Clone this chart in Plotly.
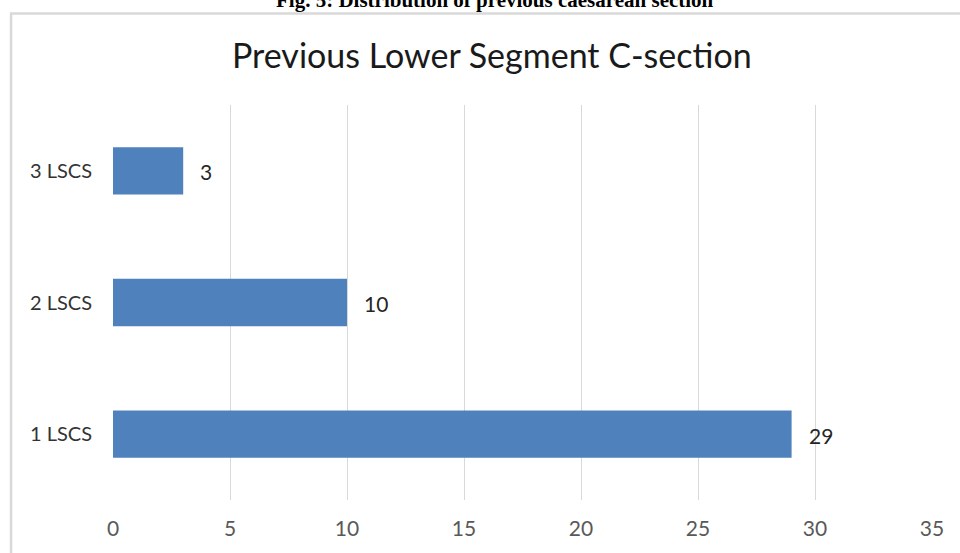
import plotly.graph_objects as go

# Number of previous lower segment caesarean sections
categories = ["1 LSCS", "2 LSCS", "3 LSCS"]
counts = [29, 10, 3]
x_ticks = [0, 5, 10, 15, 20, 25, 30, 35]

BAR_COLOR = "#4f81bd"
FONT = "Lato, 'Open Sans', sans-serif"

fig = go.Figure()
fig.add_trace(go.Bar(
    y=categories,
    x=counts,
    orientation="h",
    marker=dict(color=BAR_COLOR, line=dict(width=0)),
    width=0.36,
    hoverinfo="skip",
))

# value labels to the right of each bar
for cat, val in zip(categories, counts):
    fig.add_annotation(
        x=val, y=cat, xref="x", yref="y",
        text=str(val), showarrow=False,
        xanchor="left", xshift=15, yshift=-1,
        font=dict(family=FONT, size=21, color="#262626"),
    )

# chart frame
fig.add_shape(
    type="rect", xref="paper", yref="paper",
    x0=-0.1245, x1=1.2, y0=-0.3, y1=1.2316,
    line=dict(color="#d9d9d9", width=2.5), layer="below",
)

# chart title
fig.add_annotation(
    x=0.4627, y=1.128, xref="paper", yref="paper",
    text="Previous Lower Segment C-section", showarrow=False,
    xanchor="center", yanchor="middle",
    font=dict(family=FONT, size=34, color="#1a1a1a"),
)

# figure caption
fig.add_annotation(
    x=0.466, y=1.2647, xref="paper", yref="paper",
    text="<b>Fig. 5: Distribution of previous caesarean section</b>", showarrow=False,
    xanchor="center", yanchor="middle",
    font=dict(family="'Liberation Serif', 'Times New Roman', serif", size=21, color="#000000"),
)

fig.update_layout(
    width=960, height=553,
    margin=dict(l=113, r=28, t=105, b=53),
    paper_bgcolor="white", plot_bgcolor="white",
    showlegend=False,
    xaxis=dict(
        range=[0, 35], tickvals=x_ticks, ticktext=[str(t) for t in x_ticks],
        showgrid=True, gridcolor="#d9d9d9", gridwidth=1,
        zeroline=False, showline=False, ticks="",
        ticklabelstandoff=14,
        tickfont=dict(family=FONT, size=21, color="#595959"),
    ),
    yaxis=dict(
        categoryorder="array", categoryarray=categories,
        range=[-0.5, 2.5],
        showgrid=False, zeroline=False, showline=False, ticks="",
        ticklabelstandoff=20,
        tickfont=dict(family=FONT, size=20, color="#333333"),
    ),
)

fig.write_html("out.html")
